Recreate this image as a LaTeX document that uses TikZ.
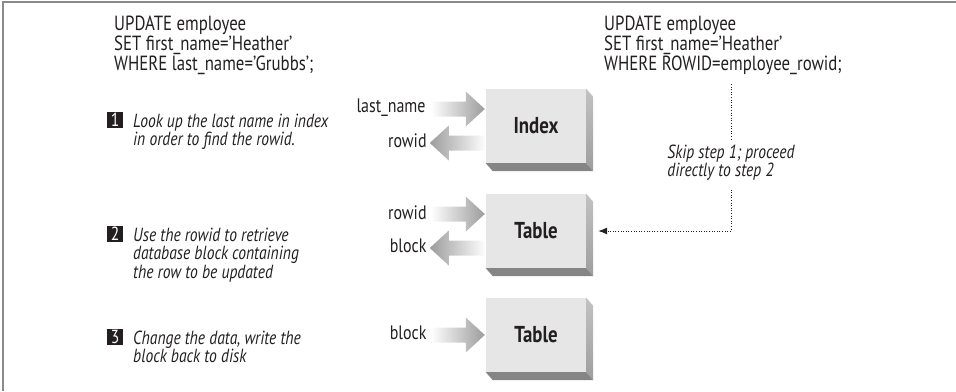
\documentclass[tikz,border=0pt]{standalone}
\usepackage{fontspec}
\setmainfont{PT Sans}[FakeStretch=0.82]
\usetikzlibrary{arrows.meta}
\definecolor{ink}{HTML}{231F20}
\definecolor{facegray}{HTML}{E6E6E6}
\definecolor{sidetop}{HTML}{C2C2C2}
\definecolor{sidebot}{HTML}{9E9E9E}
\definecolor{bottomgray}{HTML}{858585}
\definecolor{arrowgray}{HTML}{9C9C9C}
\definecolor{framegray}{HTML}{8A8A8A}
\newcommand{\toplines}[1]{\begin{tabular}[t]{@{}l@{}}#1\end{tabular}}
\begin{document}
\begin{tikzpicture}[x=1pt,y=-1pt,
  every node/.style={text=ink},
  sqltext/.style={anchor=base west, inner sep=0pt, font=\fontsize{20.5}{18.5}\selectfont},
  steptext/.style={anchor=base west, inner sep=0pt, font=\fontsize{19}{18}\selectfont\itshape},
  numbox/.style={fill=ink, text=white, minimum width=16pt, minimum height=16pt, inner sep=0pt, font=\fontsize{19}{19}\selectfont},
  dbbox/.style={fill=facegray, minimum width=100pt, minimum height=74pt, inner sep=0pt, font=\fontsize{23}{23}\selectfont\bfseries},
  lbl/.style={anchor=east, inner sep=0pt, font=\fontsize{19.5}{19.5}\selectfont},
  dotline/.style={draw=ink, line width=1pt, dash pattern=on 1pt off 1.6pt},
  inarrow/.pic={\shade[left color=white, right color=arrowgray] (-54,-7.5) -- (-19,-7.5) -- (-19,-17.5) -- (0,0) -- (-19,17.5) -- (-19,7.5) -- (-54,7.5) -- cycle;},
  outarrow/.pic={\shade[left color=arrowgray, right color=white] (0,-7.5) -- (-37,-7.5) -- (-37,-17.5) -- (-56,0) -- (-37,17.5) -- (-37,7.5) -- (0,7.5) -- cycle;}
]
\useasboundingbox (0,0) rectangle (956,391);
\draw[framegray, line width=2pt] (3,391) -- (3,2) -- (956,2);

% SQL statements
\node[sqltext] (sqlL) at (114,30) {\toplines{UPDATE employee\\ SET first\_name='Heather'\\ WHERE last\_name='Grubbs';}};
\node[sqltext] (sqlR) at (604,30) {\toplines{UPDATE employee\\ SET first\_name='Heather'\\ WHERE ROWID=employee\_rowid;}};

% steps
\node[numbox] (n1) at (115,120) {1};
\node[steptext] (s1) at (133,127) {\toplines{Look up the last name in index\\ in order to find the rowid.}};
\node[numbox] (n2) at (115,234) {2};
\node[steptext] (s2) at (133,241) {\toplines{Use the rowid to retrieve\\ database block containing\\ the row to be updated}};
\node[numbox] (n3) at (115,337) {3};
\node[steptext] (s3) at (133,344) {\toplines{Change the data, write the\\ block back to disk}};

% boxes
\node[dbbox] (index) at (536,126) {Index};
\node[dbbox] (t2) at (536,231) {Table};
\node[dbbox] (t3) at (536,335) {Table};
\foreach \b in {index,t2,t3} {
  \shade[top color=sidetop, bottom color=sidebot] (\b.north east) -- ([shift={(7,8)}]\b.north east) -- ([shift={(7,8)}]\b.south east) -- (\b.south east) -- cycle;
  \fill[bottomgray] (\b.south west) -- ([shift={(7,8)}]\b.south west) -- ([shift={(7,8)}]\b.south east) -- (\b.south east) -- cycle;
}

% block arrows
\pic at ([shift={(-1,-17)}]index.west) {inarrow};
\pic at ([shift={(0,17)}]index.west) {outarrow};
\pic at ([shift={(-1,-17)}]t2.west) {inarrow};
\pic at ([shift={(0,17)}]t2.west) {outarrow};
\pic at ([shift={(-1,0)}]t3.west) {inarrow};

\node[lbl] (l1) at ([shift={(-60,-18)}]index.west) {last\_name};
\node[lbl] (l2) at ([shift={(-59,15)}]index.west) {rowid};
\node[lbl] (l3) at ([shift={(-59,-18)}]t2.west) {rowid};
\node[lbl] (l4) at ([shift={(-59,15)}]t2.west) {block};
\node[lbl] (l5) at ([shift={(-59,-2)}]t3.west) {block};

% skip path
\node[steptext, anchor=base] (skip) at (731,158) {\toplines{Skip step 1; proceed\\ directly to step 2}};
\coordinate (dtop) at (731,84);
\draw[dotline] (dtop) -- ([yshift=5pt]skip.north);
\draw[dotline, -{Latex[length=9pt,width=7pt]}] ([yshift=-7pt]skip.south) |- ([xshift=12pt]t2.east);
\end{tikzpicture}
\end{document}
